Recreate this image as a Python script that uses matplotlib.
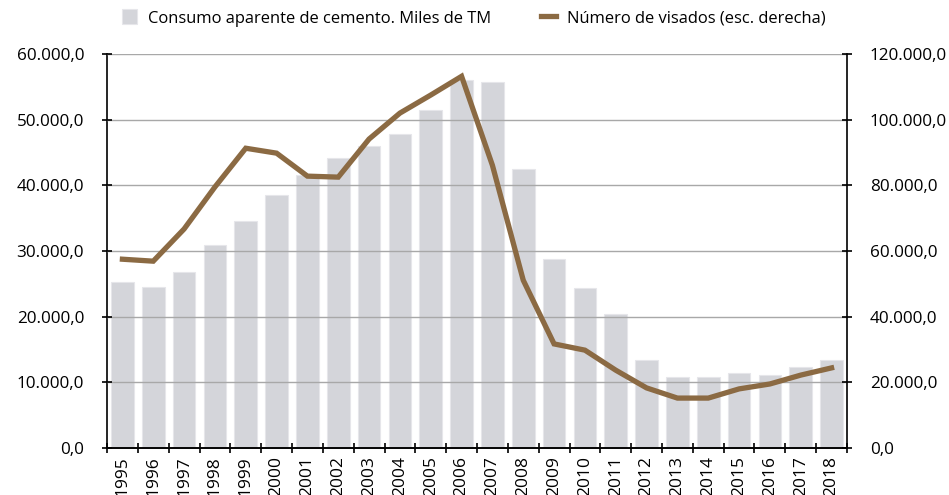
import matplotlib
matplotlib.use('Agg')
import matplotlib.pyplot as plt
from matplotlib.ticker import FuncFormatter, MultipleLocator
import numpy as np

plt.rcParams['font.family'] = ['Open Sans', 'DejaVu Sans']

years = ['1995', '1996', '1997', '1998', '1999', '2000', '2001', '2002',
         '2003', '2004', '2005', '2006', '2007', '2008', '2009', '2010',
         '2011', '2012', '2013', '2014', '2015', '2016', '2017', '2018']

# consumo aparente de cemento, miles de TM
cemento = [25300, 24500, 26800, 30900, 34600, 38500, 41600, 44100,
           46000, 47800, 51500, 56000, 55700, 42500, 28800, 24300,
           20400, 13400, 10800, 10800, 11400, 11100, 12400, 13400]

# numero de visados (eje derecho)
visados = [57500, 56900, 66700, 79500, 91300, 89800, 82800, 82500,
           94100, 102000, 107500, 113200, 86100, 51100, 31700, 29800,
           23700, 18300, 15200, 15200, 18000, 19500, 22200, 24400]

bar_col = '#d4d5da'
line_col = '#8b6a43'


def fmt(v, pos):
    s = '{:,.1f}'.format(v)
    return s.replace(',', 'X').replace('.', ',').replace('X', '.')


fig = plt.figure(figsize=(9.49, 4.95), dpi=100)
ax = fig.add_axes([107/949, 1-448/495, 740/949, 394/495])
ax2 = ax.twinx()

x = np.arange(len(years))
b = ax.bar(x, cemento, width=0.74, color=bar_col, edgecolor='#e6e6ea',
           linewidth=0.8, zorder=1, label='Consumo aparente de cemento. Miles de TM')
ax.yaxis.grid(True, color='#a8a8a8', linewidth=1.0, zorder=2)
ax.set_axisbelow(False)
for p in b:
    p.set_zorder(1)

l, = ax2.plot(x, visados, color=line_col, linewidth=3.8, solid_joinstyle='miter',
              label='Número de visados (esc. derecha)', zorder=5)

ax.set_xlim(-0.5, len(years)-0.5)
ax.set_ylim(0, 60000)
ax2.set_ylim(0, 120000)
ax.yaxis.set_major_locator(MultipleLocator(10000))
ax2.yaxis.set_major_locator(MultipleLocator(20000))
ax.yaxis.set_major_formatter(FuncFormatter(fmt))
ax2.yaxis.set_major_formatter(FuncFormatter(fmt))

ax.set_xticks(np.arange(-0.5, len(years), 1.0), minor=False)
ax.set_xticklabels([])
ax.set_xticks(x, minor=True)
ax.set_xticklabels(years, minor=True, rotation=90)
ax.tick_params(axis='x', which='major', direction='inout', length=7, width=1.2)
ax.tick_params(axis='x', which='minor', length=0, labelsize=12.5, pad=6)

ax.tick_params(axis='y', direction='inout', length=7, width=1.2, labelsize=12.3, pad=13)
ax2.tick_params(axis='y', direction='inout', length=7, width=1.2, labelsize=12.3, pad=13)

for a in (ax, ax2):
    a.spines['top'].set_visible(False)
    a.spines['left'].set_linewidth(1.2)
    a.spines['right'].set_linewidth(1.2)
    a.spines['bottom'].set_linewidth(1.2)
ax2.spines['left'].set_visible(False)
ax.spines['right'].set_visible(False)

fig.legend([b, l], [b.get_label(), l.get_label()], loc='center left',
           bbox_to_anchor=(107/949, 1-18/495), ncol=2, frameon=False,
           fontsize=11.9, handlelength=0.9, handleheight=1.0,
           columnspacing=3.0, handletextpad=0.7)

plt.savefig('out.png', dpi=100)
